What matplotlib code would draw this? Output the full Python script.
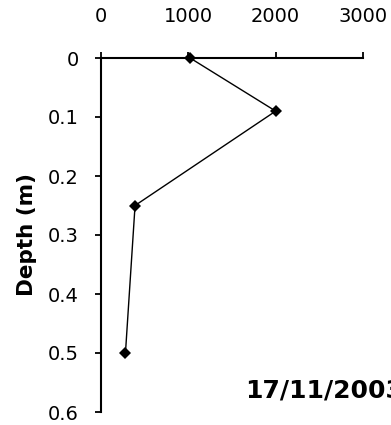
import matplotlib
matplotlib.use("Agg")
import matplotlib.pyplot as plt

# Concentration profile against depth
concentration = [1020, 2000, 390, 280]
depth = [0.0, 0.09, 0.25, 0.5]
x_ticks = [0, 1000, 2000, 3000]
y_ticks = [0, 0.1, 0.2, 0.3, 0.4, 0.5, 0.6]
y_tick_labels = ["0", "0.1", "0.2", "0.3", "0.4", "0.5", "0.6"]
date_label = "17/11/2003"

plt.rcParams["font.family"] = ["DejaVu Sans"]

W, H = 391, 425
fig = plt.figure(figsize=(W / 100, H / 100), dpi=100)
ax = fig.add_axes([101 / W, 1 - 412 / H, (363 - 101) / W, (412 - 58) / H])

ax.plot(concentration, depth, color="black", linewidth=1.0,
        marker="D", markersize=6.6, markerfacecolor="black",
        markeredgewidth=0, clip_on=False, zorder=3)

ax.set_xlim(0, 3000)
ax.set_ylim(0.6, 0)
ax.set_xticks(x_ticks)
ax.set_xticklabels([str(v) for v in x_ticks])
ax.set_yticks(y_ticks)
ax.set_yticklabels(y_tick_labels)

ax.xaxis.tick_top()
ax.spines["bottom"].set_visible(False)
ax.spines["right"].set_visible(False)
for s in ("top", "left"):
    ax.spines[s].set_linewidth(1.5)
    ax.spines[s].set_color("black")

ax.tick_params(axis="x", direction="out", length=4, width=1.3,
               pad=19, labelsize=14, colors="black")
ax.tick_params(axis="y", direction="out", length=4, width=1.3,
               pad=12, labelsize=14, colors="black")

ax.set_ylabel("Depth (m)", fontsize=15.5, fontweight="bold", labelpad=8)

fig.text(245 / W, 1 - 397 / H, date_label, fontsize=18, fontweight="bold",
         ha="left", va="baseline")

fig.savefig("out.png", dpi=100)
